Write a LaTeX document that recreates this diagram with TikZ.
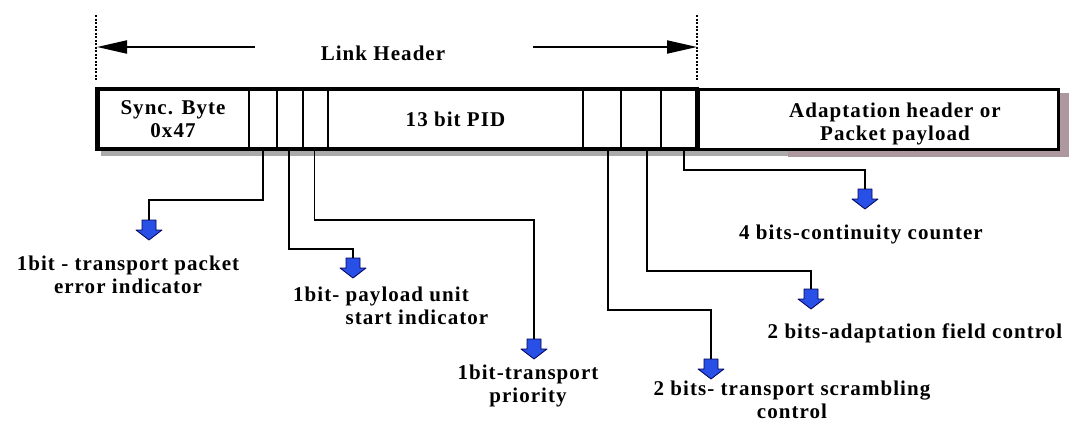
\documentclass[tikz,border=0pt]{standalone}
\usepackage{fontspec}
\setmainfont{Liberation Serif}
\newfontfamily\tsfont[LetterSpace=5]{Liberation Serif}
\usepackage{xcolor}
\usepackage{tikz}
\usetikzlibrary{positioning, arrows.meta}
\definecolor{arrowblue}{RGB}{40,80,230}
\definecolor{shadegray}{RGB}{170,170,170}
\definecolor{shadepink}{RGB}{172,152,158}

\begin{document}
\begin{tikzpicture}[
    x=1pt, y=-1pt,
    font=\tsfont\fontsize{21}{23}\selectfont\bfseries,
    field/.style={draw, line width=2pt, minimum height=60pt, inner sep=0pt, outer sep=0pt, align=center},
    blk/.style={draw=blue!35!black, fill=arrowblue, line width=0.8pt, line join=round},
    lbl/.style={align=center, inner sep=0pt},
    wire/.style={line width=1.8pt},
    guide/.style={line width=1.5pt, dash pattern=on 2pt off 1.5pt},
    hdrarr/.style={-{Triangle[length=30pt, width=13pt]}, line width=2pt}
]
\useasboundingbox (0,0) rectangle (1069,426);
\fill[white] (0,0) rectangle (1069,426);

% shadow of the packet
\fill[shadegray] (101,149) rectangle (788,156);
\fill[shadepink] (788,149) rectangle (1069,157);
\fill[shadepink] (1058,93) rectangle (1069,157);

% packet fields
\node[field, minimum width=152pt] (sync) at (173,119) {Sync. Byte\\0x47};
\node[field, minimum width=28pt, right=0pt of sync] (tei) {};
\node[field, minimum width=26pt, right=0pt of tei] (pusi) {};
\node[field, minimum width=25pt, right=0pt of pusi] (prio) {};
\node[field, minimum width=255pt, right=0pt of prio] (pid) {13 bit PID};
\node[field, minimum width=38pt, right=0pt of pid] (tsc) {};
\node[field, minimum width=40pt, right=0pt of tsc] (afc) {};
\node[field, minimum width=36pt, right=0pt of afc] (cc) {};
\node[field, minimum width=361pt, line width=3pt, right=0pt of cc] (adapt) {};
\node[lbl] (adtxt) at (895,124) {Adaptation header or\\Packet payload};

\draw[line width=3.5pt] (sync.north west) rectangle (cc.south east);
\draw[line width=5pt] (sync.north west) -- (sync.south west);
\draw[line width=5pt] (cc.north east) -- (cc.south east);

% link header span
\node (hdr) at (383,53) {Link Header};
\coordinate (lguide) at (97,47);
\coordinate (rguide) at (697,47);
\coordinate (lstart) at (255,47);
\coordinate (rstart) at (533,47);
\draw[guide] (96,15) -- (96,80);
\draw[guide] (697,15) -- (697,80);
\draw[hdrarr] (lstart) -- (lguide);
\draw[hdrarr] (rstart) -- (rguide);

% pointers (block arrows)
\foreach \tip/\x/\y in {a1/149/220, a2/353/258, a3/534/339, a4/711/359, a5/811/289, a6/865/189} {
  \coordinate (\tip) at (\x,\y);
  \filldraw[blk] (\tip) ++(-7,0) -- ++(14,0) -- ++(0,10) -- ++(6,0) -- ++(-13,10) -- ++(-13,-10) -- ++(6,0) -- cycle;
}

\foreach \cell/\dx/\dy/\tip in {tei/0/51/a1, pusi/-1/100/a2, prio/-1/71/a3, tsc/6/161/a4, afc/6/122/a5, cc/5/21/a6}
  \draw[wire] ([xshift=\dx pt]\cell.south) -- ++(0,\dy) -| (\tip);

% field descriptions
\node[lbl] (l1) at (128,275) {1bit - transport packet\\error indicator};
\node[lbl, align=left, anchor=west] (l2) at (293,306) {1bit- payload unit\\\phantom{1bit- }start indicator};
\node[lbl] (l3) at (528,386) {1bit-transport\\priority};
\node[lbl] (l4) at (792,400) {2 bits- transport scrambling\\control};
\node[lbl] (l5) at (915,333) {2 bits-adaptation field control};
\node[lbl] (l6) at (861,234) {4 bits-continuity counter};
\end{tikzpicture}
\end{document}
